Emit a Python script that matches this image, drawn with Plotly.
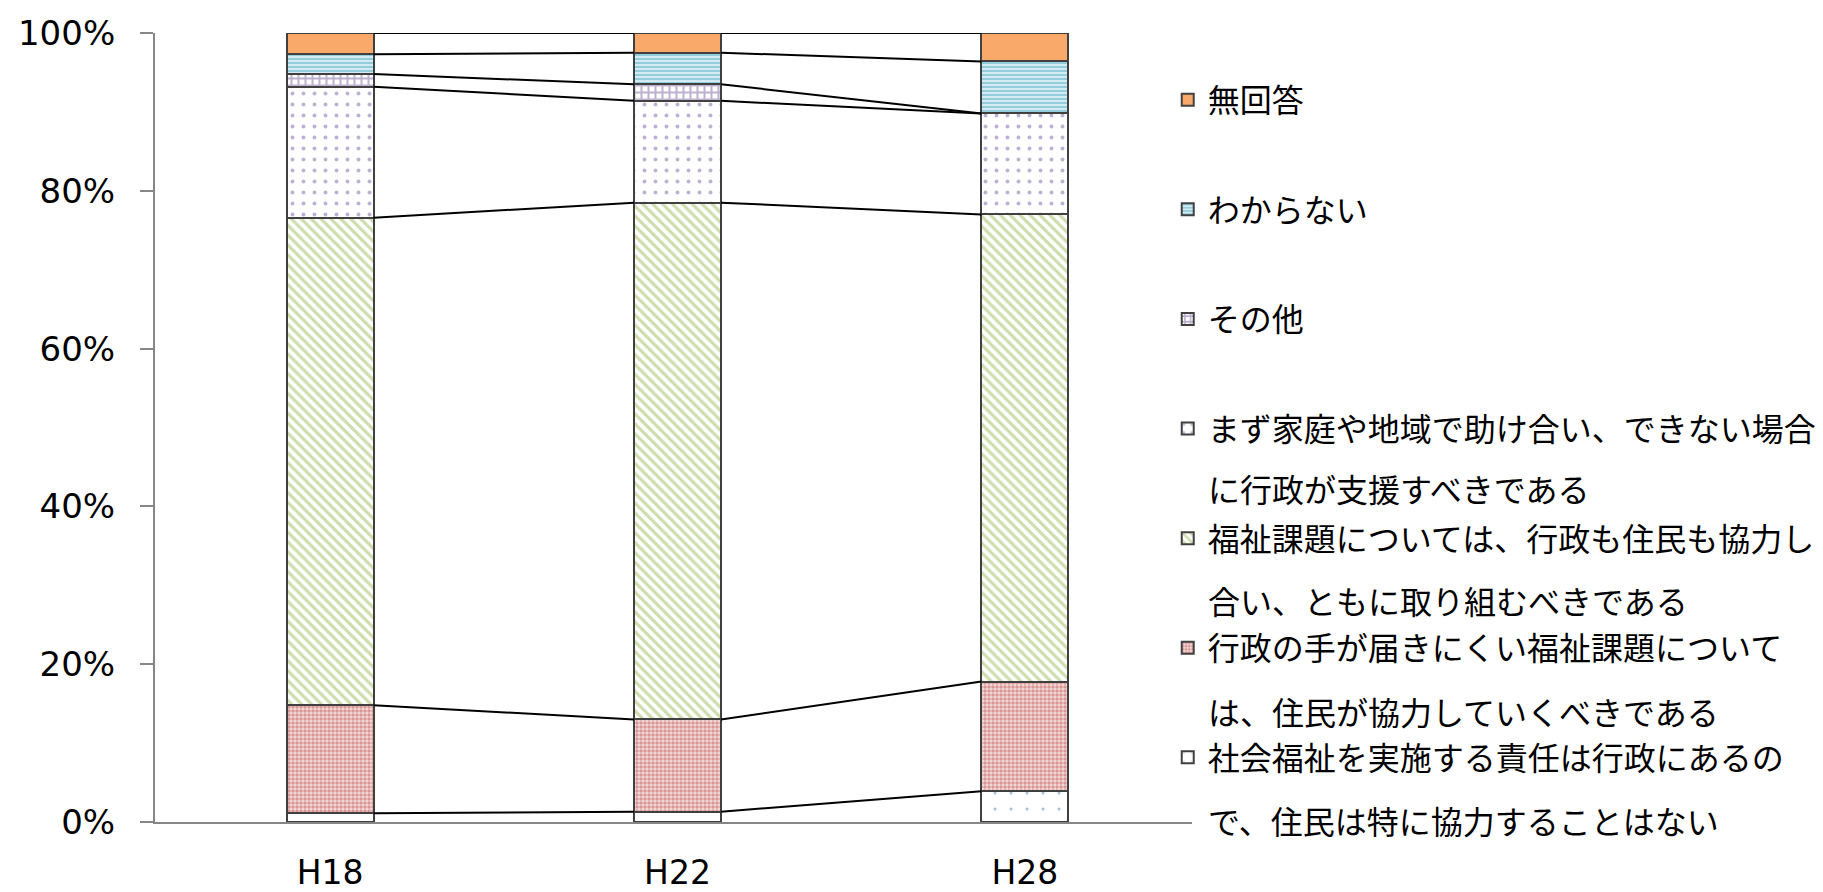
import plotly.graph_objects as go

# データ（%）
years = ["H18", "H22", "H28"]

names = [
    "社会福祉を実施する責任は行政にあるの",
    "行政の手が届きにくい福祉課題について",
    "福祉課題については、行政も住民も協力し",
    "まず家庭や地域で助け合い、できない場合",
    "その他",
    "わからない",
    "無回答",
]
second_lines = [
    "で、住民は特に協力することはない",
    "は、住民が協力していくべきである",
    "合い、ともに取り組むべきである",
    "に行政が支援すべきである",
    None,
    None,
    None,
]

shakai = [1.1, 1.3, 3.9]
gyosei_te = [13.7, 11.7, 13.9]
kyoryoku = [61.8, 65.5, 59.2]
katei = [16.6, 12.9, 12.8]
sonota = [1.6, 2.1, 0.0]
wakaranai = [2.5, 4.0, 6.6]
mukaito = [2.7, 2.5, 3.6]

series = [shakai, gyosei_te, kyoryoku, katei, sonota, wakaranai, mukaito]

patterns = [
    dict(shape=".", fgcolor="#4F81BD", bgcolor="white", size=16, solidity=0.03, fillmode="overlay"),
    dict(shape=".", fgcolor="#C0504D", bgcolor="#F2DCDB", size=4, solidity=0.6, fillmode="overlay"),
    dict(shape="\\", fgcolor="#9BBB59", bgcolor="white", size=7, solidity=0.45, fillmode="overlay"),
    dict(shape=".", fgcolor="#8064A2", bgcolor="white", size=11, solidity=0.1, fillmode="overlay"),
    dict(shape="+", fgcolor="#8064A2", bgcolor="white", size=7, solidity=0.5, fillmode="overlay"),
    dict(shape="-", fgcolor="#4BACC6", bgcolor="#DAEEF3", size=4, solidity=0.55, fillmode="overlay"),
    None,
]
colors = ["white", "white", "white", "white", "white", "white", "#F9AA6B"]

bar_w = 0.25
xs = list(range(len(years)))
font_main = "DejaVu Sans, Noto Sans CJK JP, sans-serif"

fig = go.Figure()

for i, (nm, vals) in enumerate(zip(names, series)):
    marker = dict(color=colors[i], line=dict(color="#404040", width=2))
    if patterns[i] is not None:
        marker["pattern"] = patterns[i]
    fig.add_trace(go.Bar(
        x=xs, y=vals, name=nm, width=bar_w, marker=marker,
        legendgroup=str(i), legendrank=len(series) - i,
    ))

# 系列線（各系列の上端をつなぐ）
cum = [0.0] * len(years)
lx, ly = [], []
for vals in series:
    cum = [c + v for c, v in zip(cum, vals)]
    for j in range(len(years) - 1):
        lx += [xs[j] + bar_w / 2, xs[j + 1] - bar_w / 2, None]
        ly += [cum[j], cum[j + 1], None]
fig.add_trace(go.Scatter(x=lx, y=ly, mode="lines", line=dict(color="black", width=2),
                         showlegend=False, hoverinfo="skip"))

# 凡例の2行目
legend_y2 = [-0.0013, 0.137, 0.278, 0.419]
k = 0
for t in second_lines:
    if t is None:
        continue
    fig.add_annotation(text=t, xref="paper", yref="paper", x=1.0135, y=legend_y2[k],
                       xanchor="left", yanchor="middle", showarrow=False,
                       font=dict(size=32, color="black", family=font_main))
    k += 1

fig.update_layout(
    barmode="stack",
    width=1815, height=884,
    margin=dict(l=147, r=631, t=25, b=70, autoexpand=False),
    plot_bgcolor="white", paper_bgcolor="white",
    font=dict(family=font_main, size=32, color="black"),
    legend=dict(
        x=0.9766, xanchor="left", y=0.950, yanchor="top",
        traceorder="grouped", tracegroupgap=65,
        valign="middle", font=dict(size=32),
        bgcolor="rgba(0,0,0,0)",
    ),
    xaxis=dict(
        range=[-0.504, 2.481], tickvals=xs, ticktext=years,
        showline=True, linecolor="#868686", linewidth=2,
        ticks="outside", ticklen=20, tickcolor="rgba(0,0,0,0)",
        showgrid=False, zeroline=False, tickfont=dict(size=33),
    ),
    yaxis=dict(
        range=[0, 100], dtick=20, ticksuffix="%",
        showline=True, linecolor="#868686", linewidth=2,
        ticks="outside", ticklen=13, tickcolor="#868686", tickwidth=2,
        ticklabelstandoff=18, tickfont=dict(size=34),
        showgrid=False, zeroline=False,
    ),
)

fig.write_html("out.html")
